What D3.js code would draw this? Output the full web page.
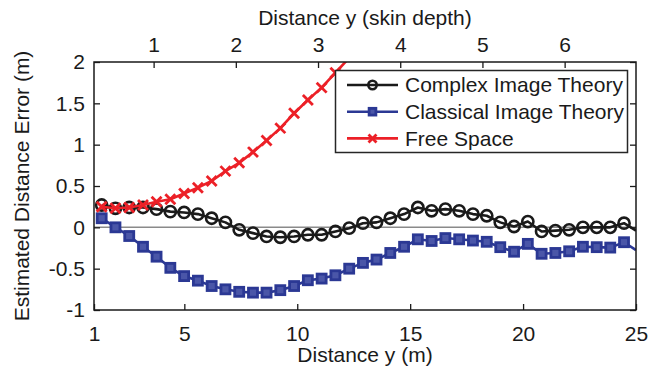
<!DOCTYPE html>
<html>
<head>
<meta charset="utf-8">
<script src="https://cdn.jsdelivr.net/npm/d3@7/dist/d3.min.js"></script>
<style>
	body { margin: 0; background: #fff; }
	svg text { font-family: "Liberation Sans", Arial, Helvetica, sans-serif; font-size: 21px; fill: #1a1a1a; }
</style>
</head>
<body>
<div id="chartDiv"></div>
<script>

// Data.
// Distance y in metres (last entry is the line's end at the right edge):
var distances = [1.34, 1.95, 2.56, 3.17, 3.77, 4.38, 4.99, 5.60, 6.21, 6.82,
                 7.43, 8.04, 8.64, 9.25, 9.86, 10.47, 11.08, 11.69, 12.30, 12.91,
                 13.51, 14.12, 14.73, 15.34, 15.95, 16.56, 17.17, 17.78, 18.39, 18.99,
                 19.60, 20.21, 20.82, 21.43, 22.04, 22.65, 23.26, 23.86, 24.47, 25];

var complexErr   = [0.27, 0.23, 0.24, 0.24, 0.22, 0.19, 0.18, 0.16, 0.11, 0.06,
                    -0.03, -0.07, -0.11, -0.12, -0.11, -0.09, -0.09, -0.05, -0.01, 0.05,
                    0.06, 0.11, 0.16, 0.24, 0.20, 0.22, 0.20, 0.16, 0.14, 0.06,
                    0.01, 0.07, -0.05, -0.04, -0.03, 0.0, 0.0, 0.0, 0.05, -0.04];

var classicalErr = [0.11, 0.0, -0.105, -0.235, -0.355, -0.49, -0.59, -0.645, -0.71, -0.75,
                    -0.78, -0.79, -0.79, -0.76, -0.71, -0.64, -0.62, -0.58, -0.50, -0.43,
                    -0.39, -0.31, -0.235, -0.145, -0.165, -0.13, -0.145, -0.16, -0.175, -0.24,
                    -0.295, -0.20, -0.32, -0.31, -0.29, -0.235, -0.24, -0.245, -0.18, -0.275];

// Free space runs off the top of the axes after ~12 m:
var freeSpaceErr = [0.25, 0.23, 0.24, 0.27, 0.31, 0.34, 0.41, 0.48, 0.56, 0.68,
                    0.78, 0.91, 1.05, 1.20, 1.38, 1.54, 1.69, 1.87, 2.05];

var seriesNames = ["Complex Image Theory", "Classical Image Theory", "Free Space"];

var xTicks      = [1, 5, 10, 15, 20, 25];
var yTicks      = [-1, -0.5, 0, 0.5, 1, 1.5, 2];
var skinTicks   = [1, 2, 3, 4, 5, 6];
var SKIN_DEPTH  = 3.64;   // metres per skin depth (top axis)

var ErrorPlot = function(width, height) {

	// Constants

	var PLOT_LEFT   = 94;
	var PLOT_RIGHT  = 636;
	var PLOT_TOP    = 62;
	var PLOT_BOTTOM = 310;
	var TICK_LEN    = 6;

	var BLACK = "#1a1a1a";
	var BLUE  = "#2b3894";
	var RED   = "#ec2027";

	var svg   = null;
	var xScale = null;
	var yScale = null;

	/*---------------------------
	| constructor
	-----------------*/

	var constructor = function() {

		svg = d3.select("#chartDiv").append("svg")
			.attr("width", width)
			.attr("height", height);

		xScale = d3.scaleLinear().domain([1, 25]).range([PLOT_LEFT, PLOT_RIGHT]);
		yScale = d3.scaleLinear().domain([-1, 2]).range([PLOT_BOTTOM, PLOT_TOP]);

		svg.append("clipPath")
			.attr("id", "plotClip")
		  .append("rect")
			.attr("x", PLOT_LEFT)
			.attr("y", PLOT_TOP)
			.attr("width", PLOT_RIGHT - PLOT_LEFT)
			.attr("height", PLOT_BOTTOM - PLOT_TOP);

		// Zero reference line:
		svg.append("line")
			.attr("x1", PLOT_LEFT).attr("x2", PLOT_RIGHT)
			.attr("y1", yScale(0)).attr("y2", yScale(0))
			.attr("stroke", "#8a8a8a")
			.attr("stroke-width", 1.5);

		drawSeries(complexErr,   BLACK, "circle");
		drawSeries(classicalErr, BLUE,  "square");
		drawSeries(freeSpaceErr, RED,   "cross");

		drawAxes();
		drawLegend();

		return {};
	}

	/*---------------------------
	| drawSeries
	-----------------*/

	var drawSeries = function(values, color, markerType) {

		let pts = values.map(function(v, i) { return { x: distances[i], y: v }; });

		let g = svg.append("g").attr("clip-path", "url(#plotClip)");

		let line = d3.line()
			.x(function(d) { return xScale(d.x); })
			.y(function(d) { return yScale(d.y); });

		g.append("path")
			.datum(pts)
			.attr("d", line)
			.attr("fill", "none")
			.attr("stroke", color)
			.attr("stroke-width", 2.6)
			.attr("stroke-linejoin", "round");

		// No marker at the end point, none above the axes:
		let markPts = pts.filter(function(d) { return d.x < 25 && d.y <= 2; });

		markPts.forEach(function(d) {
			addMarker(g, xScale(d.x), yScale(d.y), markerType, color, 1);
		});
	}

	/*---------------------------
	| addMarker
	-----------------*/

	var addMarker = function(parent, cx, cy, markerType, color, sc) {

		if (markerType === "circle") {
			parent.append("circle")
				.attr("cx", cx).attr("cy", cy)
				.attr("r", 5.6 * sc)
				.attr("fill", "none")
				.attr("stroke", color)
				.attr("stroke-width", 2.6);
		} else if (markerType === "square") {
			let s = 9 * sc;
			parent.append("rect")
				.attr("x", cx - s/2).attr("y", cy - s/2)
				.attr("width", s).attr("height", s)
				.attr("fill", "#4a56a8")
				.attr("stroke", color)
				.attr("stroke-width", 2.8);
		} else {
			let h = 4 * sc;
			parent.append("path")
				.attr("d", "M" + (cx-h) + "," + (cy-h) + "L" + (cx+h) + "," + (cy+h) +
				           "M" + (cx-h) + "," + (cy+h) + "L" + (cx+h) + "," + (cy-h))
				.attr("stroke", color)
				.attr("stroke-width", 2.8)
				.attr("stroke-linecap", "square");
		}
	}

	/*---------------------------
	| drawAxes
	-----------------*/

	var drawAxes = function() {

		let fmt = function(v) { return String(v); };

		let bottom = svg.append("g")
			.attr("transform", "translate(0," + PLOT_BOTTOM + ")")
			.call(d3.axisBottom(xScale).tickValues(xTicks).tickFormat(fmt)
				.tickSize(-TICK_LEN).tickPadding(16));

		let left = svg.append("g")
			.attr("transform", "translate(" + PLOT_LEFT + ",0)")
			.call(d3.axisLeft(yScale).tickValues(yTicks).tickFormat(fmt)
				.tickSize(-TICK_LEN).tickPadding(9));

		let right = svg.append("g")
			.attr("transform", "translate(" + PLOT_RIGHT + ",0)")
			.call(d3.axisRight(yScale).tickValues(yTicks).tickFormat("")
				.tickSize(-TICK_LEN));

		let topScale = d3.scaleLinear()
			.domain([1 / SKIN_DEPTH, 25 / SKIN_DEPTH])
			.range([PLOT_LEFT, PLOT_RIGHT]);

		let top = svg.append("g")
			.attr("transform", "translate(0," + PLOT_TOP + ")")
			.call(d3.axisTop(topScale).tickValues(skinTicks).tickFormat(fmt)
				.tickSize(-TICK_LEN).tickPadding(10));

		[bottom, left, right, top].forEach(function(ax) {
			ax.select(".domain").remove();
			ax.selectAll(".tick line").attr("stroke", BLACK).attr("stroke-width", 1.3);
			ax.selectAll(".tick text")
				.attr("fill", BLACK)
				.style("font-size", "21px")
				.style("font-family", '"Liberation Sans", Arial, sans-serif');
		});

		// Axes box:
		svg.append("rect")
			.attr("x", PLOT_LEFT).attr("y", PLOT_TOP)
			.attr("width", PLOT_RIGHT - PLOT_LEFT)
			.attr("height", PLOT_BOTTOM - PLOT_TOP)
			.attr("fill", "none")
			.attr("stroke", BLACK)
			.attr("stroke-width", 1.5);

		// Titles:
		svg.append("text")
			.attr("x", (PLOT_LEFT + PLOT_RIGHT) / 2)
			.attr("y", 362)
			.attr("text-anchor", "middle")
			.text("Distance y (m)");

		svg.append("text")
			.attr("x", (PLOT_LEFT + PLOT_RIGHT) / 2)
			.attr("y", 25)
			.attr("text-anchor", "middle")
			.text("Distance y (skin depth)");

		svg.append("text")
			.attr("transform", "translate(29," + ((PLOT_TOP + PLOT_BOTTOM) / 2) + ") rotate(-90)")
			.attr("text-anchor", "middle")
			.text("Estimated Distance Error (m)");
	}

	/*---------------------------
	| drawLegend
	-----------------*/

	var drawLegend = function() {

		let colors  = [BLACK, BLUE, RED];
		let markers = ["circle", "square", "cross"];

		let g = svg.append("g");

		g.append("rect")
			.attr("x", 335.5).attr("y", 70.5)
			.attr("width", 292).attr("height", 82)
			.attr("fill", "#fff")
			.attr("stroke", "#262626")
			.attr("stroke-width", 1.5);

		seriesNames.forEach(function(name, i) {
			let ry = 85 + i * 26.7;
			g.append("line")
				.attr("x1", 347).attr("x2", 398)
				.attr("y1", ry).attr("y2", ry)
				.attr("stroke", colors[i])
				.attr("stroke-width", 2.6);
			addMarker(g, 372.5, ry, markers[i], colors[i], 0.75);
			g.append("text")
				.attr("x", 405)
				.attr("y", ry)
				.attr("dy", "0.35em")
				.style("font-size", "21px")
				.text(name);
		});
	}

	return constructor();
}

var errPlot = ErrorPlot(657, 369);

</script>
</body>
</html>
